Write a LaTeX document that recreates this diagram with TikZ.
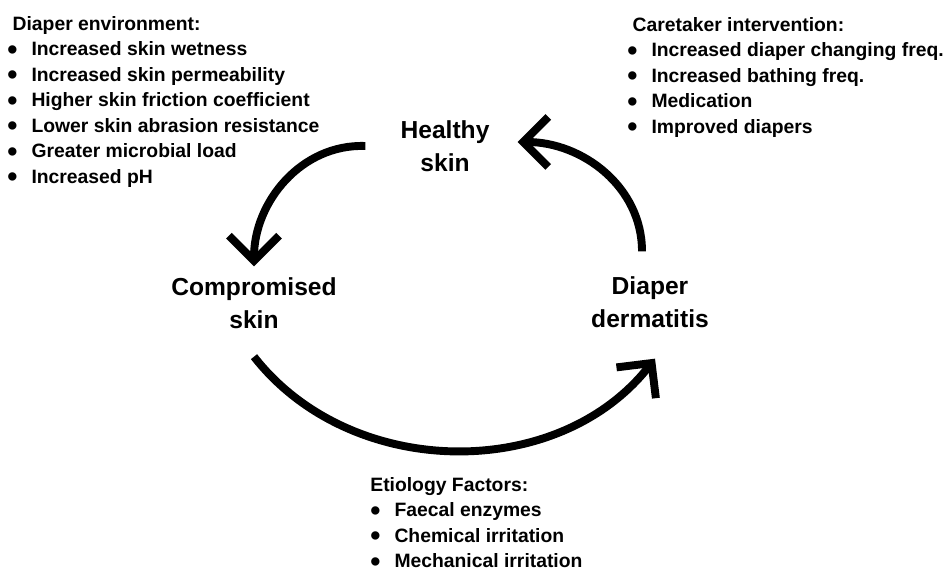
\documentclass[tikz,border=0pt]{standalone}
\usepackage{fontspec}
\setmainfont{Liberation Sans}
\usepackage{tikz}
\usetikzlibrary{arrows.meta, positioning, calc}

\newcommand{\bul}{\makebox[1.25em][l]{\smash{\raisebox{-0.35ex}{\scalebox{1.5}{\textbullet}}}}}

\begin{document}
\begin{tikzpicture}[
        font=\bfseries,
        stage/.style={align=center, font=\bfseries\fontsize{14}{18.7}\selectfont},
        factors/.style={align=left, inner sep=0pt, anchor=north west, font=\bfseries\fontsize{11}{14.5}\selectfont},
        cycle/.style={line width=4.5pt, -{Straight Barb[length=0.5cm, width=1.0cm]}}
    ]
        \useasboundingbox (0,0) rectangle (18.92,11.52);

        % the three stages
        \node[stage] (healthy) at (8.9,8.6) {Healthy\\skin};
        \node[stage] (comp) at (5.08,5.46) {Compromised\\skin};
        \node[stage] (derm) at (13.0,5.48) {Diaper\\dermatitis};

        % lists of factors
        \node[factors] (envlist) at (0.14,11.2) {\hspace{3pt}Diaper environment:\\
            \bul Increased skin wetness\\
            \bul Increased skin permeability\\
            \bul Higher skin friction coefficient\\
            \bul Lower skin abrasion resistance\\
            \bul Greater microbial load\\
            \bul Increased pH};
        \node[factors] (carelist) at (12.54,11.18) {\hspace{3pt}Caretaker intervention:\\
            \bul Increased diaper changing freq.\\
            \bul Increased bathing freq.\\
            \bul Medication\\
            \bul Improved diapers};
        \node[factors] (etiolist) at (7.4,1.98) {Etiology Factors:\\
            \bul Faecal enzymes\\
            \bul Chemical irritation\\
            \bul Mechanical irritation};

        % the cycle
        \draw[cycle] ([xshift=-0.58cm]healthy.west) to[out=178, in=90] ([yshift=0.1cm]comp.north);
        \draw[cycle] ([yshift=-0.44cm]comp.south) to[out=-52, in=-128] ([xshift=0.1cm, yshift=-0.5cm]derm.south);
        \draw[cycle] ([xshift=-0.16cm, yshift=0.38cm]derm.north) to[out=90, in=0] ([xshift=0.44cm, yshift=0.08cm]healthy.east);
    \end{tikzpicture}
\end{document}
